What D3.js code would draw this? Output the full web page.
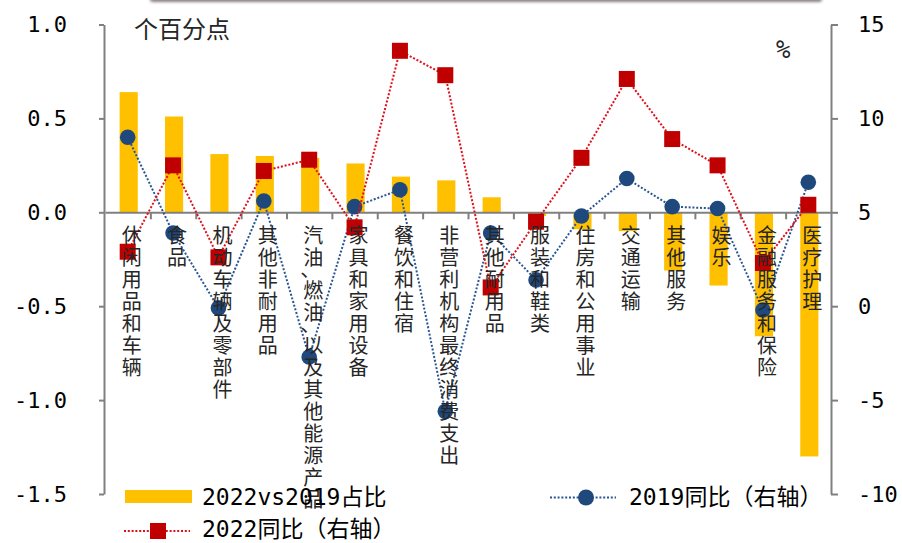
<!DOCTYPE html>
<html>
<head>
<meta charset="utf-8">
<script src="https://cdn.jsdelivr.net/npm/d3@7"></script>
<style>
  html, body { margin: 0; padding: 0; background: #fff; }
  svg { display: block; }
</style>
</head>
<body>
<div id="chart"></div>
<script>
// ── Datos ────────────────────────────────────────────────────────────────
const categories = [
  "休闲用品和车辆", "食品", "机动车辆及零部件", "其他非耐用品",
  "汽油、燃油、以及其他能源产品", "家具和家用设备", "餐饮和住宿",
  "非营利机构最终消费支出", "其他耐用品", "服装和鞋类", "住房和公用事业",
  "交通运输", "其他服务", "娱乐", "金融服务和保险", "医疗护理"
];
// 2022vs2019占比 (个百分点, eje izquierdo)
const shareChange = [0.64, 0.51, 0.31, 0.30, 0.29, 0.26, 0.19, 0.17, 0.08, -0.02, -0.09, -0.10, -0.31, -0.39, -0.66, -1.30];
// 2019同比 (%, eje derecho)
const yoy2019 = [9.0, 3.9, -0.1, 5.6, -2.7, 5.3, 6.2, -5.6, 3.9, 1.4, 4.8, 6.8, 5.3, 5.2, -0.2, 6.6];
// 2022同比 (%, eje derecho)
const yoy2022 = [2.9, 7.5, 2.6, 7.2, 7.8, 4.2, 13.6, 12.3, 1.0, 4.5, 7.9, 12.1, 8.9, 7.5, 2.3, 5.4];

const leftTicks = [-1.5, -1.0, -0.5, 0, 0.5, 1.0];
const rightTicks = [-10, -5, 0, 5, 10, 15];

// ── Medidas ──────────────────────────────────────────────────────────────
const width = 902, height = 543;
const x0 = 105, x1 = 831, yTop = 24.5, yBot = 494;
const gray = "#808080";
const numFont = "'DejaVu Sans Mono', monospace";
const cjkFont = "'Noto Sans CJK SC', sans-serif";

const svg = d3.select("#chart").append("svg")
  .attr("width", width)
  .attr("height", height)
  .attr("viewBox", [0, 0, width, height]);

// sombra arriba (resto de un cuadro encima)
const defs = svg.append("defs");
defs.append("filter").attr("id", "blur")
  .attr("x", "-10%").attr("y", "-100%").attr("width", "120%").attr("height", "300%")
  .append("feGaussianBlur").attr("stdDeviation", 1.6);
svg.append("rect")
  .attr("x", 150).attr("y", -8).attr("width", 672).attr("height", 10)
  .attr("rx", 3)
  .attr("fill", "#8c7f7f")
  .attr("filter", "url(#blur)");

// ── Escalas ──────────────────────────────────────────────────────────────
const x = d3.scaleBand().domain(categories).range([x0, x1]).padding(0);
const xIdx = d3.scaleLinear().domain([0, categories.length]).range([x0, x1]);
const yL = d3.scaleLinear().domain([-1.5, 1.0]).range([yBot, yTop]);
const yR = d3.scaleLinear().domain([-10, 15]).range([yBot, yTop]);
const cx = c => x(c) + x.bandwidth() / 2;
const barW = x.bandwidth() * 0.4;

// ── Barras ───────────────────────────────────────────────────────────────
svg.append("g")
  .selectAll("rect")
  .data(categories.map((c, i) => ({ c, v: shareChange[i] })))
  .join("rect")
  .attr("x", d => cx(d.c) - barW / 2 + 1)
  .attr("width", barW)
  .attr("y", d => yL(Math.max(0, d.v)))
  .attr("height", d => Math.abs(yL(d.v) - yL(0)))
  .attr("fill", "#ffc000");

// ── Ejes ─────────────────────────────────────────────────────────────────
function styleAxis(g) {
  g.selectAll(".domain").attr("stroke", gray).attr("stroke-width", 2);
  g.selectAll(".tick line").attr("stroke", gray).attr("stroke-width", 2);
  g.selectAll(".tick text")
    .attr("fill", "#000")
    .style("font-family", numFont)
    .style("font-size", "22px");
}

svg.append("g")
  .attr("transform", `translate(${x0 - 1},0)`)
  .call(d3.axisLeft(yL).tickValues(leftTicks).tickFormat(d => d.toFixed(1))
    .tickSize(5).tickSizeOuter(0).tickPadding(32))
  .call(styleAxis);

svg.append("g")
  .attr("transform", `translate(${x1},0)`)
  .call(d3.axisRight(yR).tickValues(rightTicks).tickFormat(d => String(d))
    .tickSize(7).tickSizeOuter(0).tickPadding(20))
  .call(styleAxis);

// línea de cero con marcas entre categorías
svg.append("g")
  .attr("transform", `translate(0,${yL(0)})`)
  .call(d3.axisBottom(xIdx).tickValues(d3.range(1, categories.length)).tickFormat("")
    .tickSize(7).tickSizeOuter(0))
  .call(styleAxis);

// ── Líneas ───────────────────────────────────────────────────────────────
const line = d3.line().x(d => cx(d.c)).y(d => yR(d.v));
const blueData = categories.map((c, i) => ({ c, v: yoy2019[i] }));
const redData = categories.map((c, i) => ({ c, v: yoy2022[i] }));

svg.append("path")
  .datum(blueData)
  .attr("d", line)
  .attr("fill", "none")
  .attr("stroke", "#2a5592")
  .attr("stroke-width", 2)
  .attr("stroke-dasharray", "2 1.8");

svg.append("g")
  .selectAll("circle")
  .data(blueData)
  .join("circle")
  .attr("cx", d => cx(d.c))
  .attr("cy", d => yR(d.v))
  .attr("r", 7.8)
  .attr("fill", "#1f497d");

svg.append("path")
  .datum(redData)
  .attr("d", line)
  .attr("fill", "none")
  .attr("stroke", "#e0101a")
  .attr("stroke-width", 2)
  .attr("stroke-dasharray", "2 1.8");

svg.append("g")
  .selectAll("rect")
  .data(redData)
  .join("rect")
  .attr("x", d => cx(d.c) - 8)
  .attr("y", d => yR(d.v) - 8)
  .attr("width", 16)
  .attr("height", 16)
  .attr("fill", "#c00000");

// ── Etiquetas verticales de categoría (un tspan por carácter) ────────────
const labelTop = 225, step = 22;
svg.append("g")
  .style("font-family", cjkFont)
  .style("font-size", "20px")
  .attr("fill", "#262626")
  .attr("text-anchor", "middle")
  .selectAll("text")
  .data(categories)
  .join("text")
  .each(function(c) {
    const t = d3.select(this);
    let y = labelTop;
    Array.from(c).forEach(ch => {
      if (ch === "、") {
        // la coma ocupa media celda en vertical
        t.append("tspan").attr("x", cx(c) + 1).attr("y", y + 8).text(ch);
        y += step / 2;
      } else {
        t.append("tspan").attr("x", cx(c) + 4).attr("y", y + 17.6).text(ch);
        y += step;
      }
    });
  });

// ── Títulos de ejes ──────────────────────────────────────────────────────
svg.append("text")
  .attr("x", 134).attr("y", 38)
  .style("font-family", cjkFont)
  .style("font-size", "24px")
  .attr("fill", "#262626")
  .text("个百分点");

svg.append("text")
  .attr("x", 776).attr("y", 58)
  .style("font-family", numFont)
  .style("font-size", "24px")
  .attr("fill", "#262626")
  .text("%");

// ── Leyenda ──────────────────────────────────────────────────────────────
const legend = svg.append("g")
  .style("font-size", "23px")
  .attr("fill", "#000");

function legendText(xp, yp, num, cjk) {
  const t = legend.append("text").attr("x", xp).attr("y", yp);
  t.append("tspan").style("font-family", numFont).text(num);
  t.append("tspan").style("font-family", cjkFont).text(cjk);
}

legend.append("rect")
  .attr("x", 125).attr("y", 490).attr("width", 67).attr("height", 13)
  .attr("fill", "#ffc000");
legendText(202, 505, "2022vs2019", "占比");

legend.append("line")
  .attr("x1", 550).attr("x2", 616).attr("y1", 497.5).attr("y2", 497.5)
  .attr("stroke", "#2a5592").attr("stroke-width", 2).attr("stroke-dasharray", "2 1.8");
legend.append("circle").attr("cx", 586).attr("cy", 497.5).attr("r", 8).attr("fill", "#1f497d");
legendText(629, 505, "2019", "同比（右轴）");

legend.append("line")
  .attr("x1", 124).attr("x2", 190).attr("y1", 531).attr("y2", 531)
  .attr("stroke", "#e0101a").attr("stroke-width", 2).attr("stroke-dasharray", "2 1.8");
legend.append("rect").attr("x", 150).attr("y", 523).attr("width", 16).attr("height", 16).attr("fill", "#c00000");
legendText(202, 537, "2022", "同比（右轴）");
</script>
</body>
</html>
